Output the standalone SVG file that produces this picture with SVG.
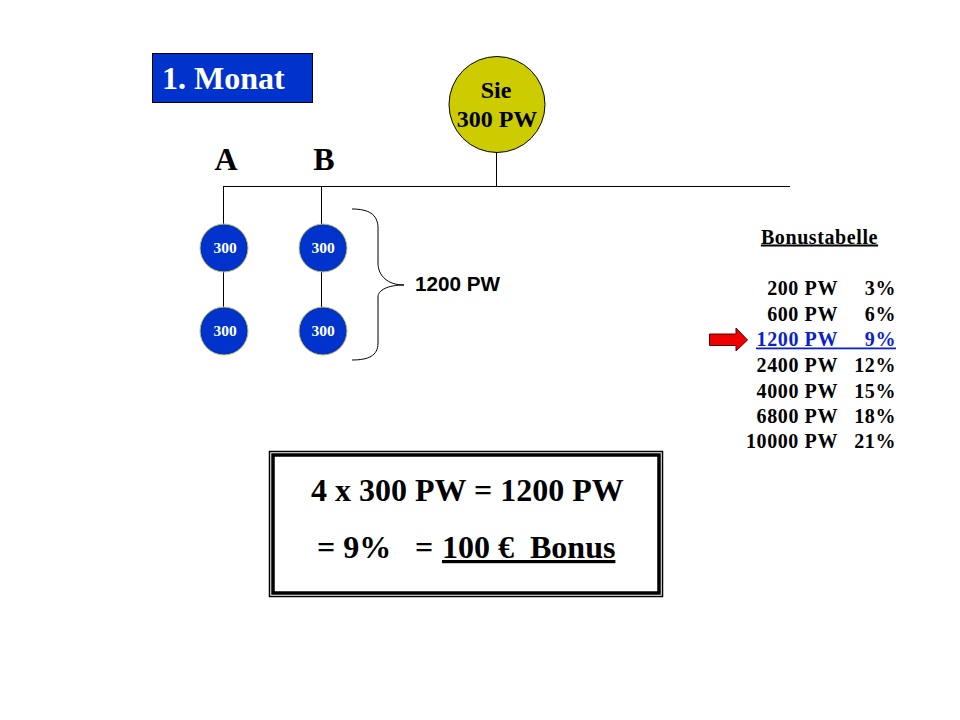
<svg xmlns="http://www.w3.org/2000/svg" width="960" height="720" viewBox="0 0 960 720">
<style>
text{font-family:"Liberation Serif","Times New Roman",serif;font-weight:bold;fill:#000}
.conn{fill:none;stroke:#000;stroke-width:1}
.small{fill:#0033cc;stroke:#c8c060;stroke-width:1}
.st{font-size:15.500px;fill:#fff;text-anchor:middle}
.row{font-size:20px;text-anchor:end;letter-spacing:.6px}
.big{font-size:32px}
</style>
<rect width="960" height="720" fill="#fff"/>
<g id="connectors">
<path class="conn" d="M496.500 152V186.500M223 186.500H790M223.500 186V226M321.500 186V226M223.500 270V310M321.500 270V310"/>
<path class="conn" d="M352 209C368 209 378 214 378 228V263C378 276 388 285 404 285C388 285 378 290 378 297V343C378 356 368 360 352 360"/>
</g>
<g id="title"><rect x="152.500" y="53.500" width="160" height="49" fill="#0033cc" stroke="#000" stroke-width="1"/><text x="162" y="89" font-size="32" style="fill:#fff">1. Monat</text></g>
<g id="sie"><circle cx="497" cy="104.500" r="48" fill="#cccc00" stroke="#000" stroke-width="1"/><text x="496" y="98" font-size="24" text-anchor="middle">Sie</text><text x="497" y="127" font-size="24" text-anchor="middle">300 PW</text></g>
<text id="label-a" x="226" y="170" font-size="32" text-anchor="middle">A</text>
<text id="label-b" x="324" y="170" font-size="32" text-anchor="middle">B</text>
<g id="a1"><circle class="small" cx="224" cy="248" r="24"/><text class="st" x="225" y="253" style="fill:#fff">300</text></g>
<g id="b1"><circle class="small" cx="323" cy="248" r="24"/><text class="st" x="323" y="253" style="fill:#fff">300</text></g>
<g id="a2"><circle class="small" cx="224" cy="331" r="24"/><text class="st" x="225" y="336" style="fill:#fff">300</text></g>
<g id="b2"><circle class="small" cx="323" cy="331" r="24"/><text class="st" x="323" y="336" style="fill:#fff">300</text></g>
<text id="sum" x="415" y="291" font-size="20.700" style="font-family:'Liberation Sans',Arial,sans-serif">1200 PW</text>
<g id="table">
<text x="819.500" y="243.500" font-size="20" text-anchor="middle" text-decoration="underline" letter-spacing=".6">Bonustabelle</text>
<text class="row" x="838" y="295">200 PW</text><text class="row" x="896" y="295">3%</text>
<text class="row" x="838" y="321">600 PW</text><text class="row" x="896" y="321">6%</text>
<text class="row" x="838" y="346" style="fill:#0a22c8">1200 PW</text><text class="row" x="896" y="346" style="fill:#0a22c8">9%</text>
<rect x="756" y="347.500" width="140" height="1.800" fill="#0a22c8"/>
<text class="row" x="838" y="372">2400 PW</text><text class="row" x="896" y="372">12%</text>
<text class="row" x="838" y="398">4000 PW</text><text class="row" x="896" y="398">15%</text>
<text class="row" x="838" y="423">6800 PW</text><text class="row" x="896" y="423">18%</text>
<text class="row" x="838" y="448">10000 PW</text><text class="row" x="896" y="448">21%</text>
</g>
<polygon id="arrow" points="709.500,334 736,334 736,328 747.500,340 736,351 736,345.500 709.500,345.500" fill="#f00000" stroke="#500" stroke-width="1"/>
<g id="result">
<rect x="269.500" y="451.500" width="393" height="145" fill="#fff" stroke="#000" stroke-width="1.500"/>
<rect x="273" y="455" width="386" height="138" fill="#fff" stroke="#000" stroke-width="3.500"/>
<text class="big" x="311" y="501">4 x 300 PW = 1200 PW</text>
<text class="big" x="317" y="558">= 9%</text>
<text class="big" x="415" y="558">=</text>
<text class="big" x="442" y="558" text-decoration="underline" xml:space="preserve">100 €  Bonus</text>
</g>
</svg>
